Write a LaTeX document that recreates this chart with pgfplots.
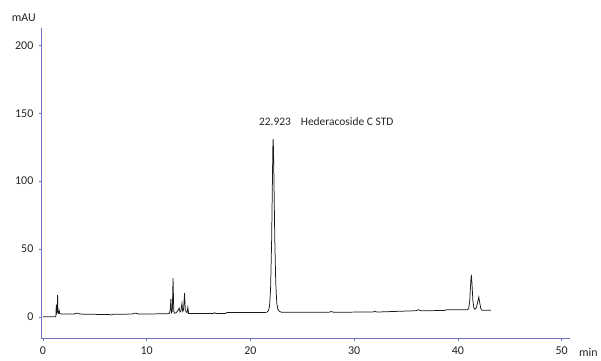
\documentclass[border=0pt]{standalone}
\usepackage{pgfplots}
\pgfplotsset{compat=1.18}
\usepackage{fontspec}
\setmainfont{Carlito}
\definecolor{axc}{RGB}{112,112,196}
\definecolor{txc}{RGB}{40,36,32}
\begin{document}
\begin{tikzpicture}
\begin{axis}[
  scale only axis, width=531pt, height=312pt,
  xmin=-0.1, xmax=50.86, ymin=-16, ymax=213,
  axis x line*=bottom, axis y line*=left,
  axis line style={axc, line width=0.8pt},
  xtick={0,10,20,30,40,50}, ytick={0,50,100,150,200},
  tick align=outside, major tick length=3pt,
  tick style={axc, line width=0.6pt},
  every tick label/.append style={font=\fontsize{12}{13}\selectfont, text=txc},
  /pgf/number format/assume math mode=true,
  xticklabel style={yshift=-2pt},
  yticklabel style={xshift=-2pt},
  clip=false,
]
\addplot[black!90, line width=0.75pt] coordinates {
(0,0) (1.25,0) (1.28,6) (1.31,9) (1.34,3) (1.38,4) (1.42,16) (1.46,3) (1.52,2.5) (1.58,4.5) (1.64,2.2)
(2.2,2.0) (3.0,2.0) (3.2,2.6) (3.4,2.6) (3.6,2.0) (6.5,1.6) (6.6,1.3) (6.8,1.9) (8.6,2.0) (8.8,2.6) (9.0,2.6) (9.2,2.1)
(12.0,2.2) (12.2,2.6) (12.28,5) (12.34,13) (12.4,3) (12.48,4) (12.55,28.5) (12.62,4) (12.7,2.6)
(12.85,3) (12.95,4) (13.05,5) (13.15,6.4) (13.22,3.5) (13.3,4) (13.41,10) (13.48,4) (13.56,5) (13.66,17.4)
(13.73,5) (13.8,4) (13.9,3) (13.98,7) (14.05,2.5) (14.3,2.4) (16.4,2.4) (16.55,3.0) (16.7,2.4) (17.6,2.4) (17.75,3.2)
(21.4,3.2) (21.6,3.4) (21.75,4.5) (21.85,8) (21.95,20) (22.05,55) (22.12,95) (22.17,125) (22.2,131) (22.23,124)
(22.28,100) (22.35,60) (22.45,25) (22.55,10) (22.65,5.5) (22.8,4) (23.0,3.4)
(27.6,3.4) (27.8,3.9) (28.0,3.4) (31.8,3.5) (32.0,4.0) (32.2,3.5) (36.0,4.5) (36.2,5.2) (36.4,4.5) (38.7,4.6) (38.9,5.2)
(40.9,5.2) (41.05,6) (41.15,12) (41.25,26) (41.3,31) (41.37,24) (41.45,12) (41.55,6.5) (41.65,5.5)
(41.8,7) (41.92,11) (42.02,14.5) (42.12,10) (42.22,6) (42.35,4.8) (43.2,4.8)
};
\node[anchor=west, font=\fontsize{11.5}{13}\selectfont, text=txc] at (axis cs:20.5,144) {22.923\hspace{10pt}Hederacoside C STD};
\node[font=\fontsize{12}{13}\selectfont, text=txc] at ([shift={(-18pt,10pt)}]rel axis cs:0,1) {mAU};
\node[font=\fontsize{12}{13}\selectfont, text=txc] at ([shift={(18pt,-14pt)}]rel axis cs:1,0) {min};
\end{axis}
\path ([shift={(-42pt,-22pt)}]current axis.south west) rectangle ++(601pt,362pt);
\end{tikzpicture}
\end{document}
